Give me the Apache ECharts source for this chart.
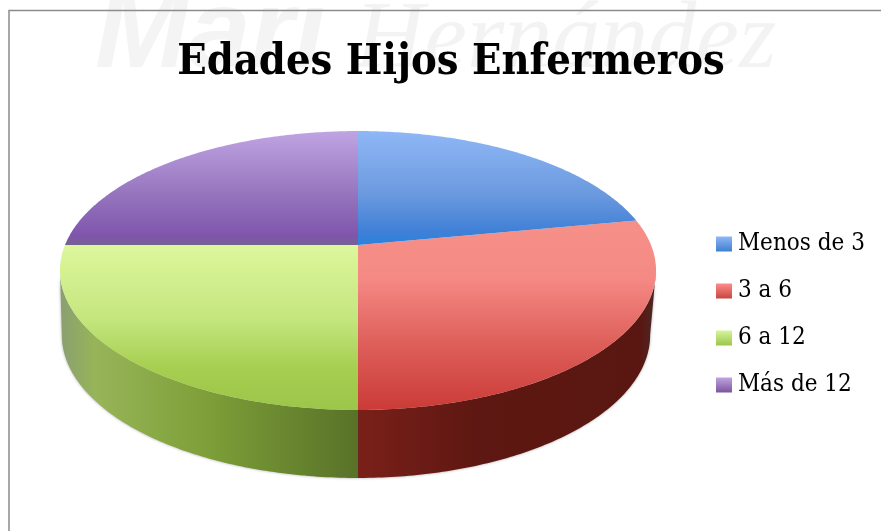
<!DOCTYPE html>
<html>
<head>
<meta charset="utf-8">
<style>html,body{margin:0;padding:0;background:#fff}#c{width:881px;height:531px}</style>
<script src="https://cdn.jsdelivr.net/npm/echarts@6/dist/echarts.min.js"></script>
</head>
<body>
<div id="c"></div>
<script>
const categories = ['Menos de 3', '3 a 6', '6 a 12', 'Más de 12'];
const values = [22, 28, 25, 25];
const titleText = 'Edades Hijos Enfermeros';

const topStops = [
  [[0,'#8FB7F6'],[0.55,'#6C9ADF'],[0.88,'#3F80D6'],[1,'#2A82DE']],
  [[0,'#F59088'],[0.3,'#F58A85'],[0.65,'#DE5F5A'],[1,'#CB3B37']],
  [[0,'#DDF79C'],[0.45,'#C4E67E'],[0.75,'#A6CE50'],[1,'#9CC64A']],
  [[0,'#BFA4E2'],[0.55,'#9675BE'],[0.92,'#7F55AC'],[1,'#766290']]
];
const sideStops = [
  [[0,'#2A5CA0'],[1,'#1F4A85']],
  [[0,'#7A2019'],[0.4,'#5E1712'],[0.95,'#5A1711'],[1,'#4A2A28']],
  [[0,'#8A9F70'],[0.12,'#97B558'],[0.5,'#7D9E38'],[1,'#587228']],
  [[0,'#5B3F80'],[1,'#4C3370']]
];
const swatchStops = [
  [[0,'#8FB7F6'],[1,'#3F7FD0']],
  [[0,'#FF8C8A'],[1,'#C84540']],
  [[0,'#D6F59C'],[1,'#9CC64A']],
  [[0,'#BFA4E2'],[1,'#7B559E']]
];

const total = values.reduce((a, b) => a + b, 0);
const fractions = [];
values.reduce((acc, v, i) => { fractions[i] = [acc / total, (acc + v) / total]; return acc + v; }, 0);

function face(f) {
  const a = f * Math.PI * 2, x = Math.sin(a), y = -Math.cos(a), k = -0.1828, d = 1 + k * y;
  return [358 + 293 * x / d, 245 + 134.8 * y / d];
}
function lower(p) {
  const dx = p[0] - 358, dy = p[1] - 270.5;
  return [358 + dx * 0.987 - 2 * Math.abs(dx) / 298, 335 + dy * 143 / 139.5];
}
function grad(stops, vertical) {
  return new echarts.graphic.LinearGradient(0, 0, vertical ? 0 : 1, vertical ? 1 : 0,
    stops.map(s => ({ offset: s[0], color: s[1] })));
}
function arcPoints(f0, f1) {
  const pts = [];
  for (let f = f0; f < f1; f += 0.002) pts.push(face(f));
  pts.push(face(f1));
  return pts;
}
function renderSlice(params, api) {
  const i = params.seriesIndex;
  const children = [];
  const f0 = api.value(1), f1 = api.value(2);
  const s0 = Math.max(f0, 0.279), s1 = Math.min(f1, 0.721);
  if (s1 > s0) {
    const upper = arcPoints(s0, s1);
    children.push({
      type: 'polygon',
      shape: { points: upper.concat(upper.map(lower).reverse()) },
      style: { fill: grad(sideStops[i], false), shadowBlur: 3, shadowColor: 'rgba(60,60,60,0.45)' }
    });
  }
  children.push({
    type: 'polygon',
    shape: { points: arcPoints(f0, f1).concat([[358, 245]]) },
    style: { fill: grad(topStops[i], true) }
  });
  return { type: 'group', children };
}

const chart = echarts.init(document.getElementById('c'), null, { renderer: 'canvas' });
chart.setOption({
  animation: false,
  backgroundColor: '#fff',
  title: {
    text: titleText, left: 446, top: 36, textAlign: 'center',
    textStyle: { fontFamily: '"DejaVu Serif Condensed","DejaVu Serif",serif', fontWeight: 'bold', fontSize: 43, color: '#000' }
  },
  legend: {
    orient: 'vertical', left: 711, top: 224, itemWidth: 16, itemHeight: 15, itemGap: 17,
    data: categories.map((name, i) => ({ name, icon: 'rect', itemStyle: { color: grad(swatchStops[i], true) } })),
    textStyle: { fontFamily: '"DejaVu Serif Condensed","DejaVu Serif",serif', fontSize: 24, lineHeight: 30, color: '#000', padding: [0, 0, 0, 1] }
  },
  xAxis: { show: false, min: 0, max: 1 },
  yAxis: { show: false, min: 0, max: 1 },
  grid: { left: 0, right: 0, top: 0, bottom: 0 },
  graphic: [
    { type: 'text', z: -10, left: 355, top: -6, style: { text: 'Hernández', font: 'italic 96px "Liberation Serif",serif', fill: '#F3F3F3' } },
    { type: 'text', z: -10, left: 95, top: -20, style: { text: 'Mari', font: 'italic bold 112px "Liberation Sans",sans-serif', fill: '#F4F4F4' } },
    { type: 'polyline', z: -5, shape: { points: [[9, 531], [9, 10.5], [881, 10.5]] }, style: { stroke: '#8C8C8C', lineWidth: 1.5, fill: 'none' } }
  ],
  series: categories.map((name, i) => ({
    type: 'custom',
    name,
    coordinateSystem: 'none',
    renderItem: renderSlice,
    itemStyle: { color: topStops[i][2][1] },
    data: [[values[i], fractions[i][0], fractions[i][1]]],
    z: i === 0 || i === 3 ? 3 : 2
  }))
});
</script>
</body>
</html>
